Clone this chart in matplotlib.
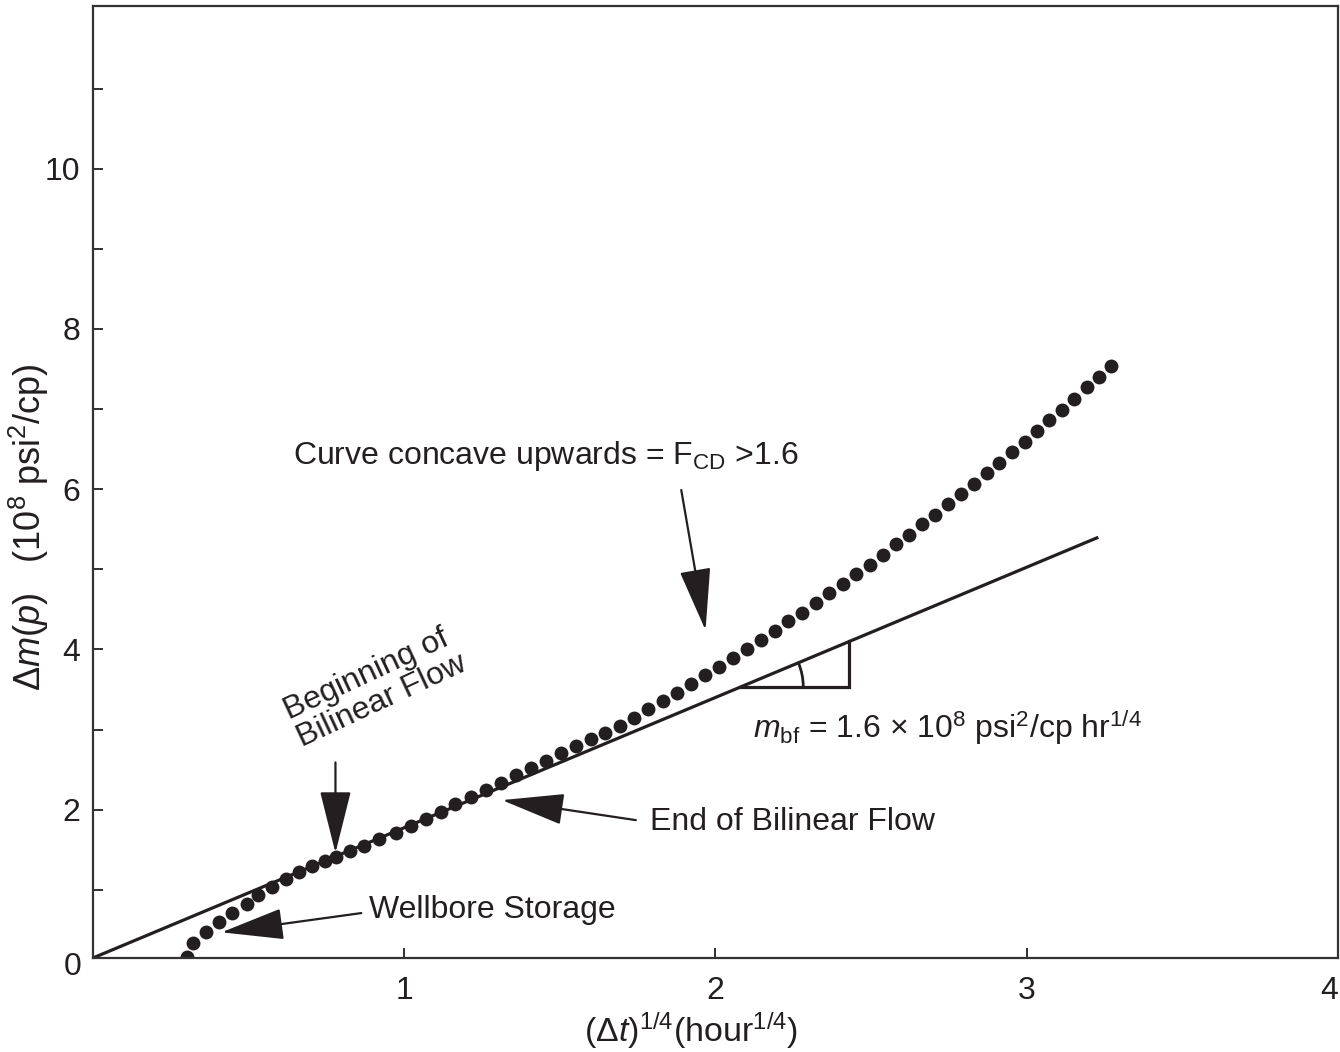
import matplotlib
matplotlib.use("Agg")
import matplotlib.pyplot as plt
from matplotlib.patches import Arc
import numpy as np

plt.rcParams['font.family'] = ['Liberation Sans', 'DejaVu Sans']
plt.rcParams['mathtext.fontset'] = 'custom'
plt.rcParams['mathtext.rm'] = 'Liberation Sans'
plt.rcParams['mathtext.it'] = 'Liberation Sans:italic'

ink = '#231f20'
fs = 23

# measured points, (dt)^1/4 vs delta m(p) in 1e8 psi2/cp
dt_q = [0.301, 0.321, 0.362, 0.404, 0.446, 0.494, 0.529, 0.574, 0.619, 0.663,
        0.705, 0.744, 0.782, 0.827, 0.872, 0.920, 0.974, 1.022, 1.071, 1.119,
        1.163, 1.215, 1.263, 1.311, 1.359, 1.407, 1.455, 1.503, 1.551, 1.599,
        1.646, 1.692, 1.738, 1.784, 1.830, 1.876, 1.921, 1.966, 2.011, 2.056,
        2.101, 2.146, 2.190, 2.234, 2.278, 2.322, 2.366, 2.409, 2.452, 2.495,
        2.538, 2.580, 2.622, 2.664, 2.706, 2.748, 2.789, 2.830, 2.871, 2.912,
        2.953, 2.993, 3.033, 3.073, 3.113, 3.153, 3.193, 3.232, 3.272]
dmp = [0.16, 0.34, 0.47, 0.60, 0.71, 0.82, 0.94, 1.03, 1.13, 1.22,
       1.30, 1.36, 1.41, 1.48, 1.55, 1.63, 1.71, 1.80, 1.88, 1.97,
       2.07, 2.16, 2.24, 2.33, 2.43, 2.52, 2.61, 2.71, 2.79, 2.88,
       2.96, 3.05, 3.15, 3.26, 3.36, 3.46, 3.57, 3.68, 3.78, 3.89,
       4.01, 4.12, 4.23, 4.35, 4.46, 4.58, 4.70, 4.82, 4.94, 5.06,
       5.18, 5.31, 5.43, 5.56, 5.68, 5.81, 5.94, 6.07, 6.20, 6.33,
       6.46, 6.59, 6.72, 6.86, 6.99, 7.13, 7.27, 7.40, 7.54]

# bilinear flow straight line
line_x = [0.0, 3.23]
line_y = [0.15, 5.40]
m_bf = 1.625

# slope triangle
tri_x = [2.08, 2.43, 2.43]
tri_y = [3.53, 3.53, 4.10]

fig = plt.figure(figsize=(13.4, 10.52), dpi=100)
ax = fig.add_axes([0.0694, 0.0894, 0.9291, 0.9049])

ax.plot(line_x, line_y, color=ink, lw=2.3, solid_capstyle='butt')
ax.plot(dt_q, dmp, 'o', color=ink, ms=10, mec='none')
ax.plot(tri_x, tri_y, color=ink, lw=2.3, solid_joinstyle='miter')
ax.add_patch(Arc((tri_x[0], tri_y[0]), 2 * 0.202, 2 * 0.786, theta1=0,
                 theta2=np.degrees(np.arctan(m_bf)), color=ink, lw=2.0))

ax.set_xlim(0, 4)
ax.set_ylim(0.15, 12.03)

ax.set_xticks([0, 1, 2, 3, 4])
ax.set_xticklabels(['', '1', '2', '3', '4'])
ax.set_yticks([2, 4, 6, 8, 10])
ax.set_yticks([1, 3, 5, 7, 9, 11], minor=True)
ax.tick_params(axis='both', which='both', direction='in', length=7.5, width=1.3,
               colors=ink, labelsize=fs)
ax.tick_params(axis='x', pad=13)
ax.tick_params(axis='y', pad=9)
ax.get_xticklabels()[-1].set_ha('right')
for s in ax.spines.values():
    s.set_linewidth(1.6)
    s.set_color('#333333')
ax.text(-0.065, 0.22, '0', ha='center', va='top', fontsize=fs, color=ink)

ax.set_xlabel(r'$(\Delta t)^{1/4}$(hour$^{1/4}$)', fontsize=24.5, color=ink)
ax.set_ylabel(r'$\Delta m(p)$   (10$^{8}$ psi$^{2}$/cp)', fontsize=26, color=ink)
ax.xaxis.set_label_coords(0.480, -0.055)
ax.yaxis.set_label_coords(-0.034, 0.453)

arrow = dict(arrowstyle='-|>,head_length=1.8,head_width=0.45', color=ink, lw=1.6,
             mutation_scale=22, shrinkA=0, shrinkB=0)

ax.text(0.641, 6.42, r'Curve concave upwards = F$_{\rm CD}$ >1.6', fontsize=fs,
        color=ink, ha='left', va='center')
ax.annotate('', xy=(1.968, 4.24), xytext=(1.89, 5.99), arrowprops=arrow)

ax.text(0.68, 2.70, 'Beginning of\nBilinear Flow', fontsize=fs, color=ink,
        rotation=25, rotation_mode='anchor', ha='left', va='bottom',
        linespacing=1.0)
ax.annotate('', xy=(0.779, 1.46), xytext=(0.779, 2.59), arrowprops=arrow)

ax.text(1.788, 1.85, 'End of Bilinear Flow', fontsize=fs, color=ink,
        ha='left', va='center')
ax.annotate('', xy=(1.314, 2.12), xytext=(1.744, 1.87), arrowprops=arrow)

ax.text(0.888, 0.75, 'Wellbore Storage', fontsize=fs, color=ink,
        ha='left', va='center')
ax.annotate('', xy=(0.413, 0.47), xytext=(0.862, 0.71), arrowprops=arrow)

ax.text(2.12, 3.03, r'$m_{\rm bf}$ = 1.6 $\times$ 10$^{8}$ psi$^{2}$/cp hr$^{1/4}$',
        fontsize=fs, color=ink, ha='left', va='center')

fig.savefig('out.png', dpi=100)
